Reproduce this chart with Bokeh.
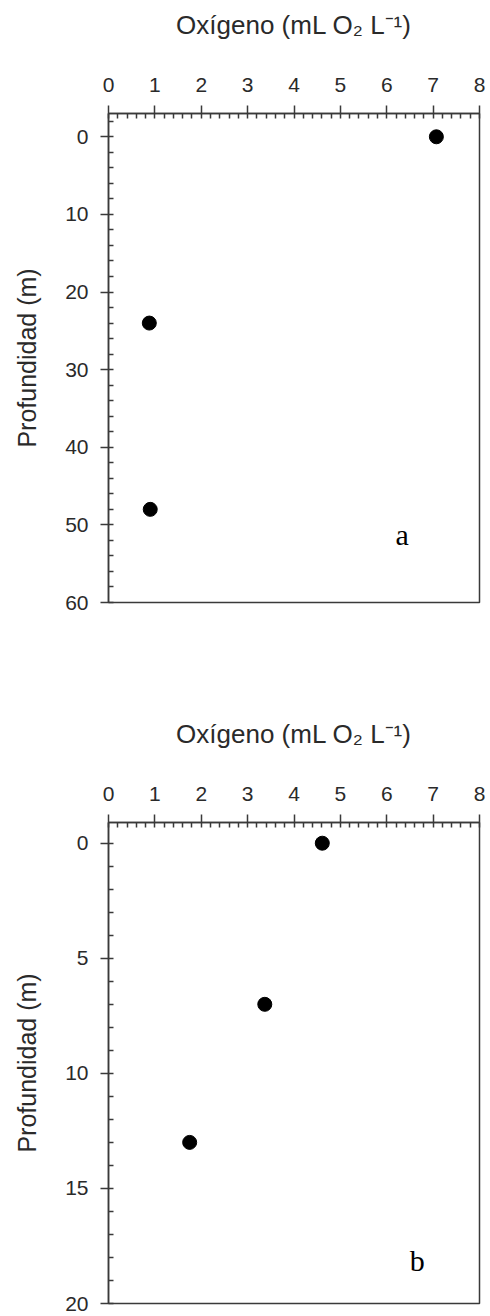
from bokeh.plotting import figure
from bokeh.models import Range1d, SingleIntervalTicker, Label
from bokeh.layouts import column
from bokeh.embed import file_html
from bokeh.resources import INLINE

# Panel a data
oxygen_a = [7.07, 0.88, 0.90]
depth_a = [0, 24, 48]
# Panel b data
oxygen_b = [4.61, 3.37, 1.75]
depth_b = [0, 7, 13]

x_label = "Oxígeno (mL O\u2082 L\u207b\u00b9)"
y_label = "Profundidad (m)"
AX = "#3a3a3a"
TXT = "#2a2a2a"


def make_panel(ox, dep, y_bottom, y_top, y_major, letter, letter_x, letter_y,
               height, border_left, border_right, border_top, border_bottom):
    p = figure(width=490, height=height,
               x_range=Range1d(0, 8), y_range=Range1d(y_bottom, y_top),
               x_axis_location="above", output_backend="svg",
               toolbar_location=None,
               min_border_left=border_left, min_border_right=border_right,
               min_border_top=border_top, min_border_bottom=border_bottom)
    p.background_fill_color = "white"
    p.border_fill_color = "white"
    p.grid.visible = False
    p.outline_line_color = AX
    p.outline_line_width = 1.5

    xa = p.xaxis[0]
    xa.ticker = SingleIntervalTicker(interval=1, num_minor_ticks=5)
    xa.axis_label = x_label
    ya = p.yaxis[0]
    ya.ticker = SingleIntervalTicker(interval=y_major, num_minor_ticks=5)
    ya.axis_label = y_label
    for ax in (xa, ya):
        ax.axis_line_color = AX
        ax.axis_line_width = 1.5
        ax.major_tick_line_color = AX
        ax.major_tick_line_width = 1.5
        ax.minor_tick_line_color = AX
        ax.minor_tick_line_width = 1.5
        ax.major_tick_out = 8
        ax.major_tick_in = 0
        ax.minor_tick_out = 0
        ax.minor_tick_in = 5
        ax.major_label_text_font = "Liberation Sans"
        ax.major_label_text_font_size = "21px"
        ax.major_label_text_color = TXT
        ax.axis_label_text_font = "Liberation Sans"
        ax.axis_label_text_font_style = "normal"
        ax.axis_label_text_color = TXT
    xa.axis_label_text_font_size = "26px"
    ya.axis_label_text_font_size = "25px"
    xa.major_label_standoff = 14
    xa.axis_label_standoff = 35
    ya.major_label_standoff = 12
    ya.axis_label_standoff = 21

    p.scatter(ox, dep, size=14, color="black")
    p.add_layout(Label(x=letter_x, y=letter_y, text=letter,
                       text_font="Liberation Serif", text_font_size="30px",
                       text_align="center", text_baseline="middle",
                       text_color="black"))
    return p


pa = make_panel(oxygen_a, depth_a, 60, -3, 10, "a", 6.33, 51.2,
                640, 105, 6, 113, 38)
pb = make_panel(oxygen_b, depth_b, 20, -0.9, 5, "b", 6.66, 18.15,
                676, 108, 11, 182, 13)

layout = column(pa, pb, spacing=0)
open("out.html", "w").write(file_html(layout, INLINE))
